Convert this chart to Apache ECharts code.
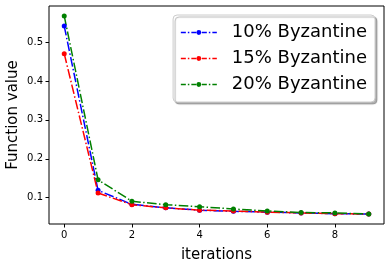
<!DOCTYPE html>
<html>
<head>
<meta charset="utf-8">
<script src="https://cdn.jsdelivr.net/npm/echarts@6/dist/echarts.min.js"></script>
<style>html,body{margin:0;padding:0;background:#fff;}#c{width:391px;height:267px;}</style>
</head>
<body>
<div id="c"></div>
<script>
var iterations = [0, 1, 2, 3, 4, 5, 6, 7, 8, 9];
var byz10 = [0.541, 0.119, 0.083, 0.074, 0.068, 0.065, 0.063, 0.061, 0.059, 0.058];
var byz15 = [0.470, 0.112, 0.082, 0.074, 0.068, 0.066, 0.063, 0.061, 0.059, 0.058];
var byz20 = [0.567, 0.146, 0.091, 0.082, 0.077, 0.071, 0.066, 0.062, 0.061, 0.058];
var xTicks = [0, 2, 4, 6, 8];
var yTicks = [0.1, 0.2, 0.3, 0.4, 0.5];
var names = ['10% Byzantine', '15% Byzantine', '20% Byzantine'];
var colors = ['#0000ff', '#ff0000', '#008000'];

function pairs(vals) { return iterations.map(function (x, i) { return [x, vals[i]]; }); }
var dashdot = [9.6, 2.4, 1.5, 2.4];
function mk(name, vals, color) {
  return {
    name: name, type: 'line', data: pairs(vals),
    symbol: 'circle', symbolSize: 5, showSymbol: true,
    itemStyle: { color: color },
    lineStyle: { color: color, width: 1.5, type: dashdot },
    animation: false
  };
}
var chart = echarts.init(document.getElementById('c'), null, { renderer: 'canvas' });
var font = 'DejaVu Sans';
chart.setOption({
  backgroundColor: '#fff',
  animation: false,
  grid: { left: 49, right: 7, top: 6, bottom: 43, outerBoundsMode: 'none', containLabel: false, show: true, borderColor: '#000', borderWidth: 1, backgroundColor: 'transparent' },
  legend: {
    data: names, orient: 'vertical', right: 16, top: 15,
    padding: [8, 8, 8, 7], itemWidth: 36, itemHeight: 6, itemGap: 7,
    backgroundColor: '#fff', borderColor: '#cccccc', borderWidth: 1, borderRadius: 4,
    shadowColor: 'rgba(0,0,0,0.3)', shadowOffsetX: 2, shadowOffsetY: 2, shadowBlur: 1,
    lineStyle: { width: 1.5, type: [5, 2, 1.5, 2] },
    textStyle: { fontFamily: font, fontSize: 18, color: '#000', padding: [0, 0, 0, 10], lineHeight: 19 }
  },
  xAxis: {
    type: 'value', min: -0.45, max: 9.45,
    name: 'iterations', nameLocation: 'middle', nameGap: 24, nameMoveOverlap: false,
    nameTextStyle: { fontFamily: font, fontSize: 15, color: '#000' },
    axisLine: { show: false, onZero: false },
    axisTick: { show: true, length: 3.5, inside: false, lineStyle: { color: '#000' }, customValues: xTicks },
    axisLabel: { fontFamily: font, fontSize: 10, color: '#000', margin: 6, customValues: xTicks },
    splitLine: { show: false }
  },
  yAxis: {
    type: 'value', min: 0.0325, max: 0.5925,
    name: 'Function value', nameLocation: 'middle', nameGap: 28, nameMoveOverlap: false,
    nameTextStyle: { fontFamily: font, fontSize: 15, color: '#000' },
    axisLine: { show: false, onZero: false },
    axisTick: { show: true, length: 3.5, inside: false, lineStyle: { color: '#000' }, customValues: yTicks },
    axisLabel: { fontFamily: font, fontSize: 10, color: '#000', margin: 6, customValues: yTicks, formatter: function (v) { return v.toFixed(1); } },
    splitLine: { show: false }
  },
  series: [mk(names[0], byz10, colors[0]), mk(names[1], byz15, colors[1]), mk(names[2], byz20, colors[2])]
});
</script>
</body>
</html>
